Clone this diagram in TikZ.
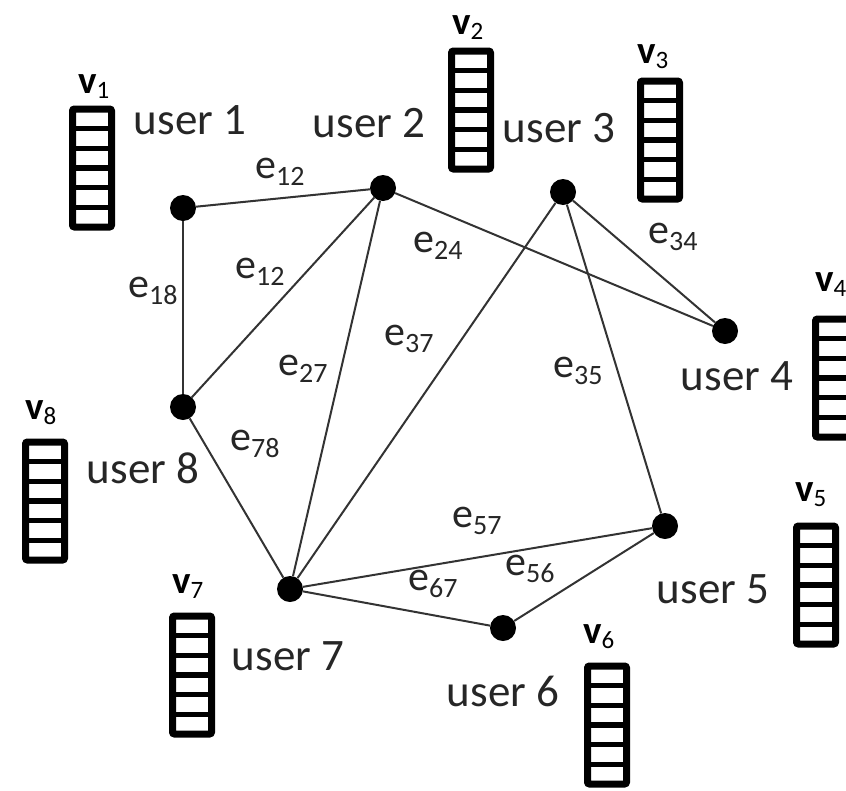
\documentclass[tikz,border=0pt]{standalone}
\usepackage{fontspec}
\setmainfont{Carlito}
\usetikzlibrary{calc}
% subscripts for edge and vector labels
\newcommand\esub[1]{\raisebox{-7pt}{\fontsize{28}{28}\selectfont #1}}
\newcommand\vsub[1]{\raisebox{-5pt}{\fontsize{25}{25}\selectfont\mdseries #1}}
\begin{document}
\begin{tikzpicture}[x=1pt,y=-1pt,
  user/.style={circle, fill=black, inner sep=0pt, minimum size=26pt},
  edge/.style={draw=black!80, line width=2pt},
  ulabel/.style={anchor=base, inner sep=0pt, font=\fontsize{45}{50}\selectfont, text=black!85},
  elabel/.style={anchor=base west, inner sep=0pt, font=\fontsize{42}{48}\selectfont, text=black!85},
  vlabel/.style={anchor=base west, inner sep=0pt, font=\fontsize{39}{44}\selectfont\bfseries},
  stack/.style={draw, line width=7pt, minimum width=39pt, minimum height=118pt,
    inner sep=0pt, rounded corners=2pt,
    path picture={\foreach \i in {1,...,5}{
      \draw[line width=5.5pt]
        ($(path picture bounding box.north west)!\i/6!(path picture bounding box.south west)$) --
        ($(path picture bounding box.north east)!\i/6!(path picture bounding box.south east)$);}}}
]
\useasboundingbox (0,0) rectangle (846,790);

% users
\node[user] (u1) at (183,208) {};
\node[user] (u2) at (383,188) {};
\node[user] (u3) at (563,192) {};
\node[user] (u4) at (725,331) {};
\node[user] (u5) at (665,526) {};
\node[user] (u6) at (503,628) {};
\node[user] (u7) at (290,589) {};
\node[user] (u8) at (183,407) {};

% links
\draw[edge] (u1) -- (u2);
\draw[edge] (u1) -- (u8);
\draw[edge] (u2) -- (u8);
\draw[edge] (u2) -- (u4);
\draw[edge] (u2) -- (u7);
\draw[edge] (u3) -- (u7);
\draw[edge] (u3) -- (u4);
\draw[edge] (u3) -- (u5);
\draw[edge] (u7) -- (u8);
\draw[edge] (u7) -- (u5);
\draw[edge] (u7) -- (u6);
\draw[edge] (u6) -- (u5);

% link labels
\node[elabel] (l12a) at (255,178) {e\esub{12}};
\node[elabel] (l12b) at (235,278) {e\esub{12}};
\node[elabel] (l18) at (128,297) {e\esub{18}};
\node[elabel] (l24) at (413,252) {e\esub{24}};
\node[elabel] (l34) at (648,243) {e\esub{34}};
\node[elabel] (l27) at (278,375) {e\esub{27}};
\node[elabel] (l37) at (384,345) {e\esub{37}};
\node[elabel] (l35) at (553,377) {e\esub{35}};
\node[elabel] (l78) at (230,450) {e\esub{78}};
\node[elabel] (l57) at (452,527) {e\esub{57}};
\node[elabel] (l56) at (505,575) {e\esub{56}};
\node[elabel] (l67) at (408,590) {e\esub{67}};

% user names
\node[ulabel] (n1) at (190,134) {user 1};
\node[ulabel] (n2) at (369,137) {user 2};
\node[ulabel] (n3) at (559,142) {user 3};
\node[ulabel] (n4) at (737,390) {user 4};
\node[ulabel] (n5) at (713,603) {user 5};
\node[ulabel] (n6) at (503,706) {user 6};
\node[ulabel] (n7) at (288,670) {user 7};
\node[ulabel] (n8) at (143,483) {user 8};

% feature vectors
\node[stack] (s1) at (92,168) {};
\node[stack] (s2) at (471,110) {};
\node[stack] (s3) at (660,140) {};
\node[stack] (s4) at (835,378) {};
\node[stack] (s5) at (816,585) {};
\node[stack] (s6) at (607,725) {};
\node[stack] (s7) at (192,675) {};
\node[stack] (s8) at (45,501) {};

\node[vlabel] (v1) at (78,93) {v\vsub{1}};
\node[vlabel] (v2) at (452,34) {v\vsub{2}};
\node[vlabel] (v3) at (637,63) {v\vsub{3}};
\node[vlabel] (v4) at (815,291) {v\vsub{4}};
\node[vlabel] (v5) at (795,501) {v\vsub{5}};
\node[vlabel] (v6) at (583,643) {v\vsub{6}};
\node[vlabel] (v7) at (172,593) {v\vsub{7}};
\node[vlabel] (v8) at (25,419) {v\vsub{8}};
\end{tikzpicture}
\end{document}
